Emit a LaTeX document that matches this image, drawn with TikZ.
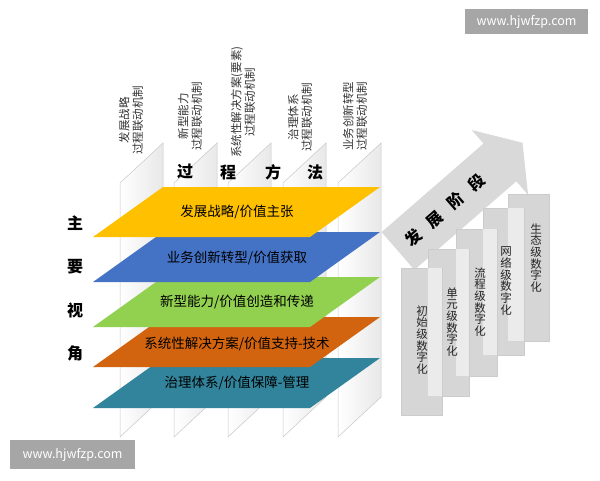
\documentclass[tikz,border=0pt]{standalone}
\usepackage{fontspec}
\setmainfont{Noto Sans CJK SC}
\definecolor{jaune}{HTML}{FFC000}
\definecolor{bleu}{HTML}{4472C4}
\definecolor{vert}{HTML}{92D050}
\definecolor{orange}{HTML}{D2640F}
\definecolor{canard}{HTML}{31849B}
\begin{document}
\begin{tikzpicture}[x=1pt, y=-1pt]
	\tikzset{panneau/.style={draw=black!22, left color=white, right color=black!9, line width=0.5pt},
		couche/.style={draw=none},
		texte/.style={font=\fontsize{13.5}{15}\selectfont, text=black},
		titre/.style={font=\fontsize{11.5}{13.5}\selectfont, text=black!80, rotate=90, align=center},
		gras/.style={font=\fontsize{16}{18}\bfseries\selectfont, text=black},
		barre/.style={fill=black!16, draw=black!20, line width=0.5pt},
		bande/.style={fill=black!8},
		etage/.style={font=\fontsize{11.5}{11.7}\selectfont, text=black!85, align=center},
		marque/.style={fill=black!35, text=white, font=\fontsize{12.5}{14}\selectfont}};
	\useasboundingbox (0,0) rectangle (600,480);

	% plans verticaux
	\foreach \x in {120,174,228,283,338}
		\draw[panneau] (\x,183) -- ++(43,-40) -- ++(0,254) -- ++(-43,40) -- cycle;

	% couches colorees
	\foreach \y/\c in {358/canard, 317/orange, 277/vert, 232/bleu, 187/jaune}
		\fill[\c] (163,\y) -- (380,\y) -- (310,\y+50) -- (93,\y+50) -- cycle;

	\node[texte] (c1) at (237,212) {发展战略/价值主张};
	\node[texte] (c2) at (237,258) {业务创新转型/价值获取};
	\node[texte] (c3) at (237,302) {新型能力/价值创造和传递};
	\node[texte] (c4) at (237,344) {系统性解决方案/价值支持-技术};
	\node[texte] (c5) at (237,383) {治理体系/价值保障-管理};

	\node[titre] (p1) at (131,120) {发展战略\\过程联动机制};
	\node[titre] (p2) at (190,116) {新型能力\\过程联动机制};
	\node[titre] (p3) at (243,102) {系统性解决方案(要素)\\过程联动机制};
	\node[titre] (p4) at (300,117) {治理体系\\过程联动机制};
	\node[titre] (p5) at (355,116) {业务创新转型\\过程联动机制};

	\node[gras] (m1) at (185,172) {过};
	\node[gras] (m2) at (228,172) {程};
	\node[gras] (m3) at (273,172) {方};
	\node[gras] (m4) at (315,172) {法};

	\node[gras] (v1) at (75,223) {主};
	\node[gras] (v2) at (75,267) {要};
	\node[gras] (v3) at (75,310) {视};
	\node[gras] (v4) at (75,353) {角};

	% fleche des stades
	\begin{scope}[shift={(398,251)}, rotate=41]
		\fill[black!15] (0,-25) -- (135,-25) -- (135,-43) -- (165,0) -- (135,43) -- (135,25) -- (0,25) -- cycle;
	\end{scope}
	\node[gras, rotate=41] (s0) at (445,210) {发\hspace{12pt}展\hspace{12pt}阶\hspace{12pt}段};

	% marches
	\foreach \x/\y in {508/194, 483/208, 456/229, 428/249, 401/268}
		\draw[barre] (\x,\y) rectangle ++(41,147);
	\fill[bande] (428,268) rectangle (442,396);
	\fill[bande] (456,249) rectangle (469,376);
	\fill[bande] (483,229) rectangle (497,355);
	\fill[bande] (508,208) rectangle (524,341);

	\node[etage] (e1) at (422,340) {初\\始\\级\\数\\字\\化};
	\node[etage] (e2) at (452,322) {单\\元\\级\\数\\字\\化};
	\node[etage] (e3) at (480,302) {流\\程\\级\\数\\字\\化};
	\node[etage] (e4) at (506,281) {网\\络\\级\\数\\字\\化};
	\node[etage] (e5) at (536,258) {生\\态\\级\\数\\字\\化};

	% filigranes
	\node[marque, minimum width=123pt, minimum height=25pt] (w1) at (526.5,21.5) {www.hjwfzp.com};
	\node[marque, minimum width=125pt, minimum height=29pt] (w2) at (72.5,454.5) {www.hjwfzp.com};

\end{tikzpicture}
\end{document}
